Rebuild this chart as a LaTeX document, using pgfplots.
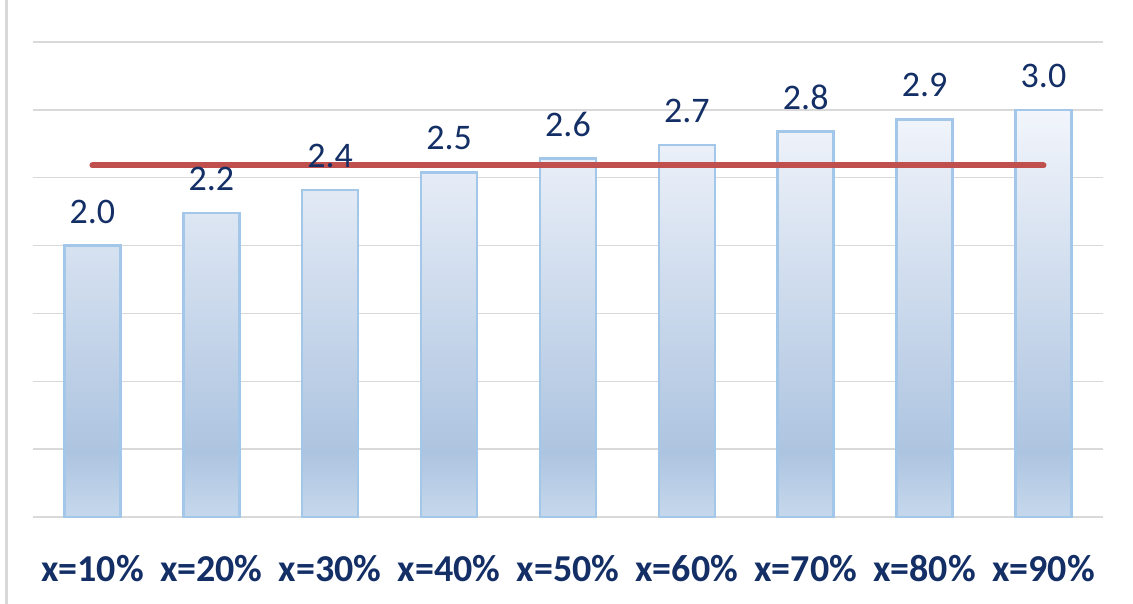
\documentclass[border=0pt]{standalone}
\usepackage{fontspec}
\setmainfont{Carlito}
\usepackage{pgfplots}
\pgfplotsset{compat=1.18}

\definecolor{navy}{HTML}{132F66}
\definecolor{barline}{HTML}{A3C7E8}
\definecolor{gridgray}{HTML}{D9D9D9}
\definecolor{avgred}{HTML}{C0504D}
\definecolor{bartop}{HTML}{F2F5FB}
\definecolor{barmid}{HTML}{ADC4E0}
\definecolor{barbot}{HTML}{C6D8EC}

% vertical gradient of each bar: pale at the top, deeper blue low down
\pgfdeclareverticalshading{barshade}{100bp}{%
  color(0bp)=(barbot); color(25bp)=(barbot); color(33bp)=(barmid);
  color(75bp)=(bartop); color(100bp)=(bartop)}

\begin{document}
\begin{tikzpicture}
\useasboundingbox (-33pt,-87pt) rectangle (1100pt,517pt);
\draw[gridgray, line width=3pt] (-26pt,-87pt) -- (-26pt,517pt);
\begin{axis}[
  at={(0pt,0pt)}, anchor=south west,
  width=1070pt, height=475pt, scale only axis,
  xmin=-0.5, xmax=8.5, ymin=0, ymax=3.5,
  axis line style={draw=none},
  ytick={0,0.5,...,3.5}, yticklabels={},
  ymajorgrids, grid style={gridgray, line width=1.5pt},
  xtick={0,...,8},
  xticklabels={x=10\%,x=20\%,x=30\%,x=40\%,x=50\%,x=60\%,x=70\%,x=80\%,x=90\%},
  major tick length=0pt,
  xticklabel style={font=\fontsize{38}{40}\selectfont\bfseries, text=navy,
    inner sep=0pt, anchor=north, yshift=-38pt},
  /pgf/number format/assume math mode=true,
  clip=false,
]
\addplot[ybar, bar width=56pt, draw=barline, line width=2.5pt,
  shade, shading=barshade,
  nodes near coords={\pgfmathprintnumber[fixed,zerofill,precision=1]{\pgfplotspointmeta}},
  every node near coord/.append style={font=\fontsize{36}{38}\selectfont,
    text=navy, inner sep=0pt, anchor=south, yshift=21pt}]
  coordinates {(0,2.00) (1,2.24) (2,2.41) (3,2.54) (4,2.64) (5,2.74) (6,2.84) (7,2.93) (8,3.00)};
% mean of the nine values
\addplot[sharp plot, avgred, line width=6pt, line cap=round]
  coordinates {(0,2.59) (8,2.59)};
\end{axis}
\end{tikzpicture}
\end{document}
